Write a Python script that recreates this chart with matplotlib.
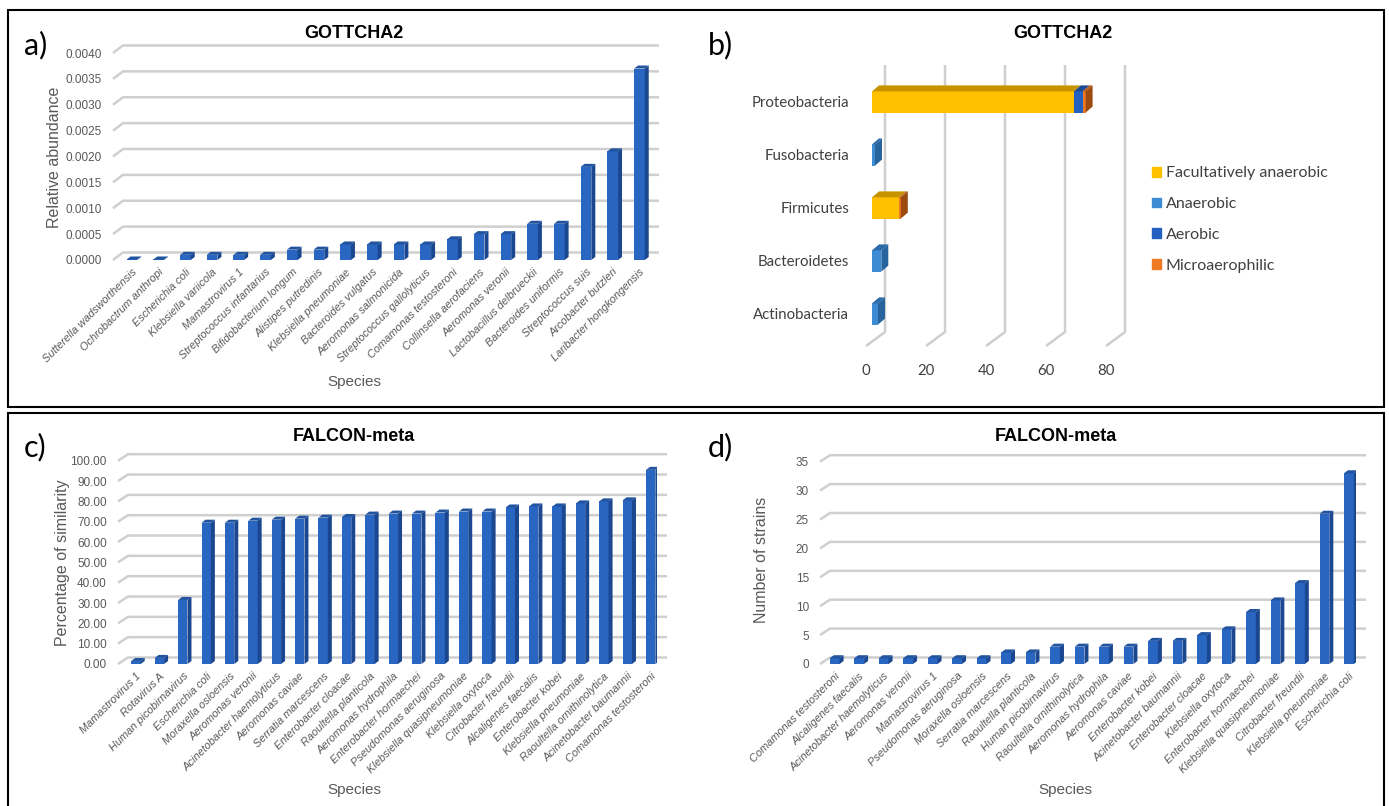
import numpy as np
import matplotlib.pyplot as plt
import matplotlib.colors as mcolors
import matplotlib.transforms as mtransforms
from matplotlib.patches import Rectangle, Patch
from matplotlib.collections import PolyCollection

W, H = 1389, 806
SANS = "Liberation Sans"
CAL = "Lato"
GRID = "#cfcfcf"
TXT = "#595959"

# ---- data ----
gottcha_species = ["Sutterella wadsworthensis", "Ochrobactrum anthropi", "Escherichia coli",
                   "Klebsiella variicola", "Mamastrovirus 1", "Streptococcus infantarius",
                   "Bifidobacterium longum", "Alistipes putredinis", "Klebsiella pneumoniae",
                   "Bacteroides vulgatus", "Aeromonas salmonicida", "Streptococcus gallolyticus",
                   "Comamonas testosteroni", "Collinsella aerofaciens", "Aeromonas veronii",
                   "Lactobacillus delbrueckii", "Bacteroides uniformis", "Streptococcus suis",
                   "Arcobacter butzleri", "Laribacter hongkongensis"]
gottcha_abund = [0.00001, 0.00001, 0.0001, 0.0001, 0.0001, 0.0001, 0.0002, 0.0002, 0.0003, 0.0003,
                 0.0003, 0.0003, 0.0004, 0.0005, 0.0005, 0.0007, 0.0007, 0.0018, 0.0021, 0.0037]

phyla = ["Actinobacteria", "Bacteroidetes", "Firmicutes", "Fusobacteria", "Proteobacteria"]
oxygen_groups = ["Facultatively anaerobic", "Anaerobic", "Aerobic", "Microaerophilic"]
facultative = [0, 0, 9.1, 0, 67.3]
anaerobic = [2.0, 3.1, 0, 1.0, 0]
aerobic = [0, 0, 0, 0, 2.9]
microaerophilic = [0, 0, 0.5, 0, 1.0]

falcon_sim_species = ["Mamastrovirus 1", "Rotavirus A", "Human picobirnavirus", "Escherichia coli",
                      "Moraxella osloensis", "Aeromonas veronii", "Acinetobacter haemolyticus",
                      "Aeromonas caviae", "Serratia marcescens", "Enterobacter cloacae",
                      "Raoultella planticola", "Aeromonas hydrophila", "Enterobacter hormaechei",
                      "Pseudomonas aeruginosa", "Klebsiella quasipneumoniae", "Klebsiella oxytoca",
                      "Citrobacter freundii", "Alcaligenes faecalis", "Enterobacter kobei",
                      "Klebsiella pneumoniae", "Raoultella ornithinolytica", "Acinetobacter baumannii",
                      "Comamonas testosteroni"]
falcon_similarity = [1.5, 3.0, 31.5, 69.5, 69.5, 70.5, 71.0, 71.5, 72.0, 72.3, 73.5, 74.0, 74.0,
                     74.5, 75.0, 75.0, 77.0, 77.5, 77.5, 79.0, 80.0, 80.5, 95.5]

falcon_strain_species = ["Comamonas testosteroni", "Alcaligenes faecalis", "Acinetobacter haemolyticus",
                         "Aeromonas veronii", "Mamastrovirus 1", "Pseudomonas aeruginosa",
                         "Moraxella osloensis", "Serratia marcescens", "Raoultella planticola",
                         "Human picobirnavirus", "Raoultella ornithinolytica", "Aeromonas hydrophila",
                         "Aeromonas caviae", "Enterobacter kobei", "Acinetobacter baumannii",
                         "Enterobacter cloacae", "Klebsiella oxytoca", "Enterobacter hormaechei",
                         "Klebsiella quasipneumoniae", "Citrobacter freundii", "Klebsiella pneumoniae",
                         "Escherichia coli"]
falcon_strains = [1, 1, 1, 1, 1, 1, 1, 2, 2, 3, 3, 3, 3, 4, 4, 5, 6, 9, 11, 14, 26, 33]

fig = plt.figure(figsize=(W / 100, H / 100), dpi=100)


def add_ax(left, top, right, bottom):
    ax = fig.add_axes([left / W, 1 - bottom / H, (right - left) / W, (bottom - top) / H])
    for s in ax.spines.values():
        s.set_visible(False)
    ax.patch.set_alpha(0)
    return ax


def px_units(ax):
    # data units per pixel, x and y
    x0, x1 = ax.get_xlim()
    y0, y1 = ax.get_ylim()
    bb = ax.get_position()
    return (x1 - x0) / (bb.width * W), (y1 - y0) / (bb.height * H)


def column_panel(box, xlim, ylim, ticks, fmt, names, vals, gd, bd, width=0.4):
    ax = add_ax(*box)
    ax.set_xlim(*xlim)
    ax.set_ylim(*ylim)
    ux, uy = px_units(ax)
    gdx, gdy = gd[0] * ux, gd[1] * uy
    for t in ticks:
        ax.plot([xlim[0], xlim[0] + gdx, xlim[1] + gdx], [t, t + gdy, t + gdy],
                color=GRID, lw=1.8, clip_on=False, zorder=1, solid_capstyle="butt")
    x = np.arange(len(vals))
    ax.bar(x, vals, width, color="#2866c1", zorder=3)
    bdx, bdy = bd[0] * ux, bd[1] * uy
    sides, tops = [], []
    for xi, v in zip(x, vals):
        r, l = xi + width / 2, xi - width / 2
        sides.append([(r, 0), (r + bdx, bdy), (r + bdx, v + bdy), (r, v)])
        tops.append([(l, v), (l + bdx, v + bdy), (r + bdx, v + bdy), (r, v)])
    ax.add_collection(PolyCollection(sides, facecolors="#1b4790", edgecolors="none", zorder=3))
    ax.add_collection(PolyCollection(tops, facecolors="#21539f", edgecolors="none", zorder=3))
    ax.set_yticks(ticks)
    ax.set_yticklabels([fmt.format(t) for t in ticks], fontsize=8.5, color=TXT, family=SANS)
    ax.set_xticks(x)
    ax.set_xticklabels(names, rotation=45, ha="right", rotation_mode="anchor",
                       fontsize=7.9, color=TXT, family=SANS, style="italic")
    ax.tick_params(length=0, axis="y", pad=8)
    ax.tick_params(length=0, axis="x", pad=5)
    return ax


# ---- a) GOTTCHA2 relative abundance ----
column_panel((113, 53, 649, 260), (-0.71, 19.36), (0, 0.0040),
             np.arange(0, 0.00401, 0.0005), "{:.4f}", gottcha_species, gottcha_abund,
             (10, 7.5), (4, 3))

# ---- c) FALCON-meta similarity ----
column_panel((118, 460.7, 657, 664), (-0.77, 22.27), (0, 100),
             np.arange(0, 100.1, 10), "{:.2f}", falcon_sim_species, falcon_similarity,
             (10, 6.5), (4, 3))

# ---- d) FALCON-meta strains ----
column_panel((820, 461.7, 1356, 664), (-0.6, 21.29), (0, 35),
             np.arange(0, 35.1, 5), "{:.0f}", falcon_strain_species, falcon_strains,
             (10, 6.5), (4, 3))

# ---- b) GOTTCHA2 phyla, horizontal stacked ----
axb = add_ax(866, 65, 1112, 346)
axb.set_xlim(-2, 80)
axb.set_ylim(-0.604, 4.698)
ux, uy = px_units(axb)
ybase = -0.604 + 14 / 53
for v in range(0, 81, 20):
    axb.plot([v + 13 * ux, v + 13 * ux, v - 6 * ux], [4.698, ybase, -0.604],
             color=GRID, lw=1.8, clip_on=False, zorder=1, solid_capstyle="butt")
series = [facultative, anaerobic, aerobic, microaerophilic]
colors = ["#ffc000", "#3d8bd3", "#2360c0", "#f07a24"]
tops_c = ["#c79400", "#2b6aa8", "#1b4a96", "#b75713"]
sides_c = ["#d09d00", "#27649e", "#1a468c", "#9c4a10"]
h = 0.4
ddx, ddy = 7 * ux, 6 * uy
for i in range(len(phyla)):
    left = 0.0
    last = None
    for k, s in enumerate(series):
        v = s[i]
        if v <= 0:
            continue
        axb.barh(i, v, h, left=left, color=colors[k], zorder=3)
        yt = i + h / 2
        axb.add_patch(plt.Polygon([(left, yt), (left + ddx, yt + ddy), (left + v + ddx, yt + ddy),
                                   (left + v, yt)], color=tops_c[k], lw=0, zorder=3))
        left += v
        last = k
    if last is not None:
        yb = i - h / 2
        axb.add_patch(plt.Polygon([(left, yb), (left + ddx, yb + ddy), (left + ddx, yb + h + ddy),
                                   (left, yb + h)], color=sides_c[last], lw=0, zorder=3))
axb.set_yticks(range(len(phyla)))
axb.set_yticklabels(phyla, fontsize=10.8, color="#404040", family=CAL)
axb.set_xticks(range(0, 81, 20))
axb.set_xticklabels([str(v) for v in range(0, 81, 20)], fontsize=10.8, color="#404040", family=CAL)
axb.tick_params(length=0, axis="y", pad=12)
axb.tick_params(length=0, axis="x", pad=13)
shift = mtransforms.ScaledTranslation(-6 / 100, 0, fig.dpi_scale_trans)
for lab in axb.get_xticklabels():
    lab.set_transform(lab.get_transform() + shift)
handles = [Patch(color=c) for c in colors]
axb.legend(handles, oxygen_groups, loc="upper left", bbox_to_anchor=(1138 / W, 1 - 152 / H),
           bbox_transform=fig.transFigure, frameon=False, handlelength=0.55, handleheight=0.55,
           handletextpad=0.3, labelspacing=1.05, prop=dict(family=CAL, size=11.5),
           labelcolor="#404040")

# ---- titles, axis labels, panel letters ----
for x, y, t in [(354, 34, "GOTTCHA2"), (1063, 34, "GOTTCHA2"),
                (354, 437, "FALCON-meta"), (1056, 437, "FALCON-meta")]:
    fig.text(x / W, 1 - y / H, t, ha="center", va="center", fontsize=13, weight="bold", family=SANS)
for x, y, t in [(354, 382, "Species"), (354, 790, "Species"), (1065, 790, "Species")]:
    fig.text(x / W, 1 - y / H, t, ha="center", va="center", fontsize=11, color=TXT, family=SANS)
for x, y, t in [(55, 157, "Relative abundance"), (62, 563, "Percentage of similarity"),
                (762, 560, "Number of strains")]:
    fig.text(x / W, 1 - y / H, t, ha="center", va="center", rotation=90, fontsize=11.5,
             color=TXT, family=SANS)
for x, y, t in [(36, 45, "a)"), (720, 45, "b)"), (35, 447, "c)"), (720, 447, "d)")]:
    fig.text(x / W, 1 - y / H, t, ha="center", va="center", fontsize=22, family=CAL)

# panel frames
fig.add_artist(Rectangle((8 / W, 1 - 407 / H), 1376 / W, 397 / H, transform=fig.transFigure,
                         fill=False, ec="black", lw=1.5))
fig.add_artist(Rectangle((8 / W, -0.01), 1376 / W, 1 - 413 / H + 0.01, transform=fig.transFigure,
                         fill=False, ec="black", lw=1.5))

fig.savefig("out.png", dpi=100)
